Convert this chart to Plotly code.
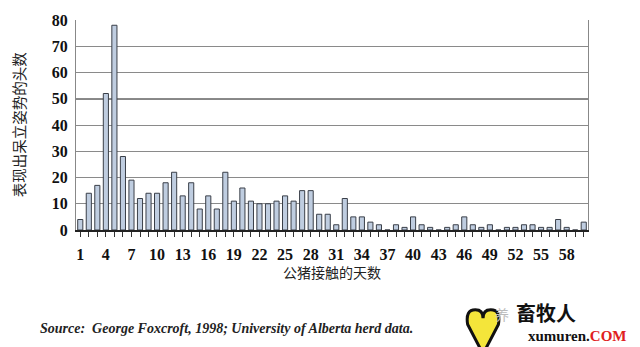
import plotly.graph_objects as go

days = list(range(1, 61))
counts = [4, 14, 17, 52, 78, 28, 19, 12, 14, 14,
          18, 22, 13, 18, 8, 13, 8, 22, 11, 16,
          11, 10, 10, 11, 13, 11, 15, 15, 6, 6,
          2, 12, 5, 5, 3, 2, 0, 2, 1, 5,
          2, 1, 0, 1, 2, 5, 2, 1, 2, 0,
          1, 1, 2, 2, 1, 1, 4, 1, 0, 3]
x_tick_days = list(range(1, 61, 3))
y_ticks = [0, 10, 20, 30, 40, 50, 60, 70, 80]
y_title = "表现出呆立姿势的头数"
x_title = "公猪接触的天数"
source = "Source:  George Foxcroft, 1998; University of Alberta herd data."

serif = "Liberation Serif, Times New Roman, serif"
cjk = "Noto Sans CJK SC, sans-serif"

fig = go.Figure()
fig.add_trace(go.Bar(
    x=days, y=counts,
    marker=dict(color="#bfcde0", line=dict(color="#3a3f48", width=1)),
    width=0.6,
))

ticktext = [str(d) if d in x_tick_days else "" for d in days]

fig.update_layout(
    width=640, height=347,
    margin=dict(l=76, r=52, t=16, b=117),
    paper_bgcolor="white", plot_bgcolor="white",
    showlegend=False,
    xaxis=dict(
        range=[0.5, 60.5],
        tickvals=days, ticktext=ticktext,
        ticks="outside", ticklen=5, tickcolor="#333", tickwidth=1,
        showgrid=False, zeroline=False,
        showline=True, linecolor="#222", linewidth=1.5,
        tickfont=dict(family=serif, size=16, color="#111", weight="bold"),
        tickangle=0, ticklabelstandoff=4,
    ),
    yaxis=dict(
        range=[0, 80],
        tickvals=y_ticks,
        ticks="", showgrid=True, gridcolor="#8a8a8a", gridwidth=1.2,
        zeroline=False,
        showline=True, linecolor="#888", linewidth=1.2, mirror=True,
        tickfont=dict(family=serif, size=16, color="#111", weight="bold"),
        ticklabelstandoff=4,
    ),
)

# darker 50 line
fig.add_shape(type="line", xref="paper", yref="y", x0=0, x1=1, y0=50, y1=50,
              line=dict(color="#111", width=1.5), layer="below")

fig.add_annotation(text=y_title, xref="paper", yref="paper", x=-0.113, y=0.5,
                   textangle=-90, showarrow=False,
                   font=dict(family=cjk, size=14.5, color="#222"),
                   xanchor="center", yanchor="middle")
fig.add_annotation(text=x_title, xref="paper", yref="paper", x=0.5, y=-0.2,
                   showarrow=False, font=dict(family=cjk, size=14, color="#222"),
                   xanchor="center", yanchor="middle")
fig.add_annotation(text="<i>" + source + "</i>", xref="paper", yref="paper",
                   x=-0.074, y=-0.47, showarrow=False,
                   font=dict(family=serif, size=14, color="#222", weight="bold"),
                   xanchor="left", yanchor="middle")
# watermark logo
fig.add_shape(type="path", xref="paper", yref="paper",
              path="M 0.795 -0.59 L 0.765 -0.45 Q 0.76 -0.38 0.78 -0.38 Q 0.795 -0.38 0.795 -0.42 Q 0.795 -0.38 0.81 -0.38 Q 0.83 -0.38 0.825 -0.45 Z",
              fillcolor="#f4e53a", line=dict(color="#111", width=3))
fig.add_annotation(text="养", xref="paper", yref="paper", x=0.85, y=-0.40,
                   showarrow=False, font=dict(family=cjk, size=14, color="#bbb"),
                   xanchor="right", yanchor="middle")
fig.add_annotation(text="<b>畜牧人</b>", xref="paper", yref="paper", x=0.98, y=-0.395,
                   showarrow=False, font=dict(family=cjk, size=20, color="#111"),
                   xanchor="right", yanchor="middle")
fig.add_annotation(text="<b>xumuren.<span style='color:#e02020'>COM</span></b>",
                   xref="paper", yref="paper", x=1.08, y=-0.505,
                   showarrow=False, font=dict(family=serif, size=15, color="#111"),
                   xanchor="right", yanchor="middle")

fig.write_html("out.html")
